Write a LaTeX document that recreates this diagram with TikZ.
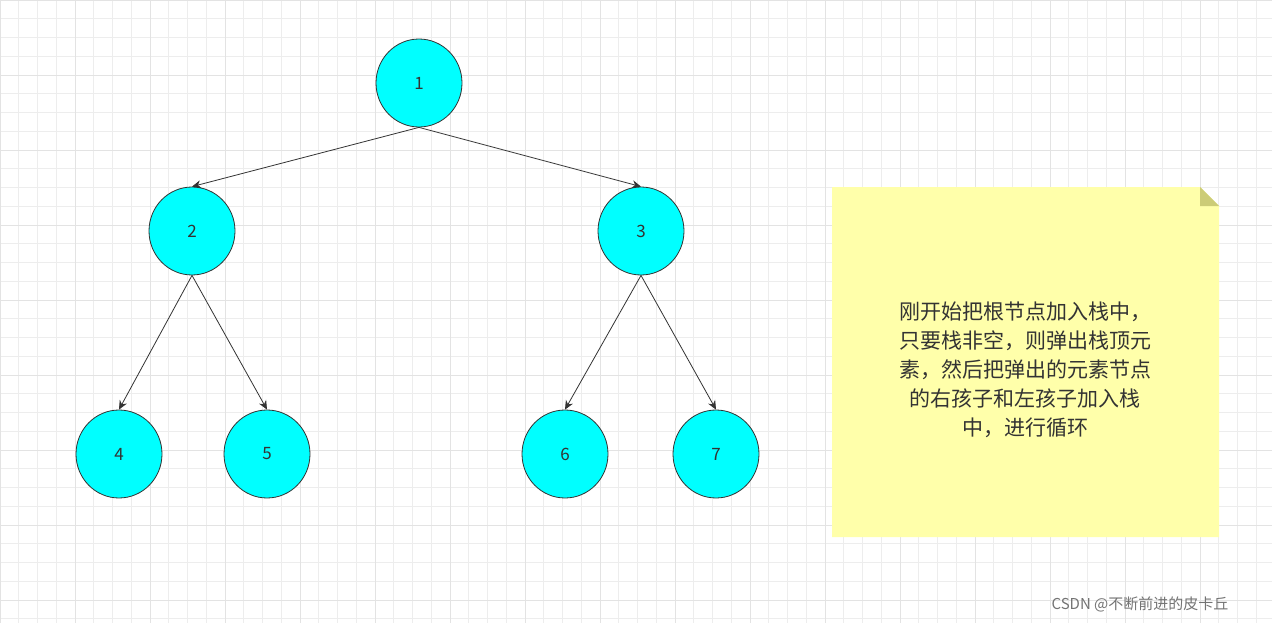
\documentclass[tikz,border=0pt]{standalone}
\usepackage{fontspec}
\newfontfamily\cjk{Noto Sans CJK SC}
\usetikzlibrary{arrows.meta,shapes.geometric}
\definecolor{treenode}{RGB}{0,255,255}
\definecolor{notebg}{RGB}{255,255,170}
\definecolor{notefold}{RGB}{204,204,119}
\tikzset{
  tnode/.style={ellipse, draw=black!80, thick, fill=treenode, minimum width=86pt, minimum height=88pt, inner sep=0pt, font=\cjk\fontsize{17}{17}\selectfont, text=black!80},
  tedge/.style={-{Stealth[length=9pt,width=8pt]}, black!80, thick}
}
\begin{document}
\begin{tikzpicture}[x=1pt, y=-1pt]
\useasboundingbox (0,0) rectangle (1272,623);
\fill[white] (0,0) rectangle (1272,623);
% Grid
\foreach \g in {0,18.75,...,1272} \draw[black!7, line width=0.6pt] (\g,0) -- (\g,623);
\foreach \g in {0,18.75,...,623} \draw[black!7, line width=0.6pt] (0,\g) -- (1272,\g);
\foreach \g in {0,75,...,1272} \draw[black!11, line width=0.8pt] (\g,0) -- (\g,623);
\foreach \g in {0,75,...,623} \draw[black!11, line width=0.8pt] (0,\g) -- (1272,\g);
% Tree
\node[tnode] (n1) at (419,83) {1};
\node[tnode] (n2) at (192,231) {2};
\node[tnode] (n3) at (641,231) {3};
\node[tnode] (n4) at (119,454) {4};
\node[tnode] (n5) at (267,454) {5};
\node[tnode] (n6) at (565,454) {6};
\node[tnode] (n7) at (716,454) {7};
\draw[tedge] (n1.south) -- (n2.north);
\draw[tedge] (n1.south) -- (n3.north);
\draw[tedge] (n2.south) -- (n4.north);
\draw[tedge] (n2.south) -- (n5.north);
\draw[tedge] (n3.south) -- (n6.north);
\draw[tedge] (n3.south) -- (n7.north);
% Note
\fill[notebg] (832,187) -- (1200,187) -- (1219,206) -- (1219,537) -- (832,537) -- cycle;
\fill[notefold] (1200,187) -- (1219,206) -- (1200,206) -- cycle;
\node[align=center, text=black!80, font=\cjk\fontsize{21}{29}\selectfont] (note) at (1025,370)
  {刚开始把根节点加入栈中，\\只要栈非空，则弹出栈顶元\\素，然后把弹出的元素节点\\的右孩子和左孩子加入栈\\中，进行循环};
\node[text=black!55, font=\cjk\fontsize{15}{15}\selectfont] (mark) at (1140,604) {CSDN @不断前进的皮卡丘};
\end{tikzpicture}
\end{document}
